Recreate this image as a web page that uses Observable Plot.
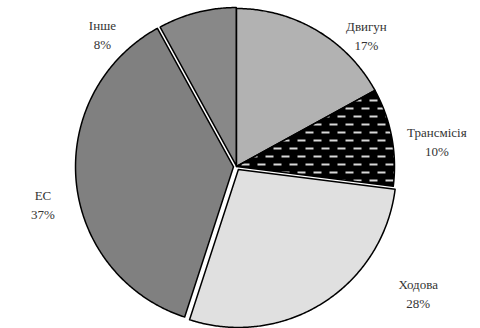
<!DOCTYPE html>
<html>
<head>
<meta charset="utf-8">
<script src="https://cdn.jsdelivr.net/npm/d3@7"></script>
<script src="https://cdn.jsdelivr.net/npm/@observablehq/plot@0.6"></script>
<style>
  html, body { margin: 0; padding: 0; background: #fff; }
</style>
</head>
<body>
<div id="chart"></div>
<script>
// Shares of failures by vehicle system, %
const categories = ["Двигун", "Трансмісія", "Ходова", "ЕС", "Інше"];
const shares = [17, 10, 28, 37, 8];

// ---- layout and styling ----
const W = 480, H = 328;
const cx = 236, cy = 166, R = 158;             // pie centre and radius (px)
const explode = [0, 0, 3.5, 3, 1];             // radial offset of each slice (px)
const fills = ["url(#pEngine)", "url(#pGear)", "#e0e0e0", "#808080", "url(#pOther)"];
// label placement: [angle clockwise from 12 o'clock in degrees, distance from centre in px]
const labelPolar = [[44.6, 185], [82.6, 202], [124.7, 221], [259.2, 197], [314.8, 189]];

const rad = d => d * Math.PI / 180;
const pt = (ox, oy, r, a) => [ox + r * Math.sin(a), oy - r * Math.cos(a)];

const total = d3.sum(shares);
let acc = 0;
const slices = categories.map((name, i) => {
  const a0 = acc / total * 2 * Math.PI;
  acc += shares[i];
  const a1 = acc / total * 2 * Math.PI;
  const mid = (a0 + a1) / 2;
  const [ox, oy] = pt(cx, cy, explode[i], mid);
  const n = Math.max(2, Math.ceil((a1 - a0) / rad(0.5)));
  const ring = [[ox, oy]];
  for (let k = 0; k <= n; ++k) ring.push(pt(ox, oy, R, a0 + (a1 - a0) * k / n));
  ring.push([ox, oy]);
  const [la, lr] = labelPolar[i];
  const [lx, ly] = pt(cx, cy, lr, rad(la));
  return {
    type: "Feature",
    properties: {name, value: shares[i], fill: fills[i], lx, ly},
    geometry: {type: "Polygon", coordinates: [ring]}
  };
});

// the drawing frame in pixel coordinates, used to pin the identity projection
const frame = {type: "Polygon", coordinates: [[[0, 0], [W, 0], [W, H], [0, H], [0, 0]]]};

const chart = Plot.plot({
  width: W,
  height: H,
  margin: 0,
  inset: 0,
  projection: {type: "identity", domain: frame},
  color: {type: "identity"},
  style: {background: "#fff", fontFamily: "'Liberation Serif', serif"},
  marks: [
    Plot.geo(slices, {
      fill: d => d.properties.fill,
      stroke: "#000",
      strokeWidth: 1.5,
      strokeLinejoin: "round"
    }),
    Plot.text(slices, {
      x: d => d.properties.lx,
      y: d => d.properties.ly,
      text: d => `${d.properties.name}\n${d.properties.value}%`,
      fontFamily: "Liberation Serif",
      fontSize: 13,
      lineHeight: 1.45,
      fill: "#333",
      textAnchor: "middle"
    })
  ]
});

// fill patterns for the textured slices
const defs = d3.select(chart).insert("defs", ":first-child");
const eng = defs.append("pattern").attr("id", "pEngine").attr("patternUnits", "userSpaceOnUse")
  .attr("width", 2).attr("height", 2);
eng.append("rect").attr("width", 2).attr("height", 2).attr("fill", "#f6f6f6");
eng.append("rect").attr("x", 0).attr("y", 0).attr("width", 1).attr("height", 1).attr("fill", "#6e6e6e");
eng.append("rect").attr("x", 1).attr("y", 1).attr("width", 1).attr("height", 1).attr("fill", "#6e6e6e");

const gear = defs.append("pattern").attr("id", "pGear").attr("patternUnits", "userSpaceOnUse")
  .attr("width", 16).attr("height", 16);
gear.append("rect").attr("width", 16).attr("height", 16).attr("fill", "#000");
gear.append("rect").attr("x", 1).attr("y", 3).attr("width", 8).attr("height", 2).attr("fill", "#d8d8d8");
gear.append("rect").attr("x", 9).attr("y", 11).attr("width", 8).attr("height", 2).attr("fill", "#d8d8d8");
gear.append("rect").attr("x", -7).attr("y", 11).attr("width", 8).attr("height", 2).attr("fill", "#d8d8d8");

const oth = defs.append("pattern").attr("id", "pOther").attr("patternUnits", "userSpaceOnUse")
  .attr("width", 2).attr("height", 2);
oth.append("rect").attr("width", 2).attr("height", 2).attr("fill", "#a4a4a4");
oth.append("rect").attr("x", 0).attr("y", 0).attr("width", 1).attr("height", 1).attr("fill", "#6c6c6c");
oth.append("rect").attr("x", 1).attr("y", 1).attr("width", 1).attr("height", 1).attr("fill", "#6c6c6c");

document.getElementById("chart").append(chart);
</script>
</body>
</html>
